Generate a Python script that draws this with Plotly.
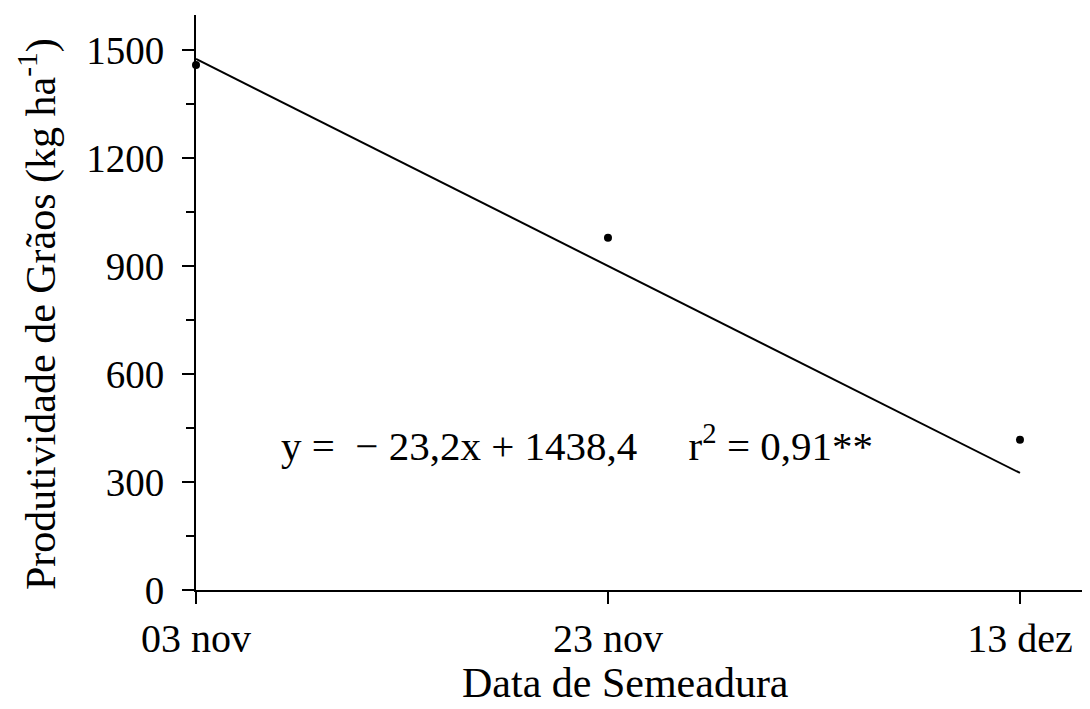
import plotly.graph_objects as go

# Data
days = [0, 20, 40]
date_labels = ["03 nov", "23 nov", "13 dez"]
grain_yield = [1458, 978, 417]
fit_x = [0, 40]
fit_y = [1475, 325]
y_ticks = [0, 300, 600, 900, 1200, 1500]

FONT = "Liberation Serif, Times New Roman, serif"
FS = 41

# plot area in absolute page pixels (page body has an 8px margin)
PL, PR, PT, PB = 196, 1090, 15, 590
OFF = 8
W, H = 1090, 709

fig = go.Figure()
fig.add_trace(go.Scatter(x=fit_x, y=fit_y, mode="lines",
                         line=dict(color="black", width=2), showlegend=False, cliponaxis=False))
fig.add_trace(go.Scatter(x=days, y=grain_yield, mode="markers",
                         marker=dict(color="black", size=8), showlegend=False, cliponaxis=False))

def px_x(p):
    return (p - PL) / (PR - PL)

def px_y(p):
    return (PB - p) / (PB - PT)

# regression equation
fig.add_annotation(x=px_x(577), xref="paper", y=px_y(443), yref="paper", xanchor="center", yanchor="middle",
                   text="y =  \u2212 23,2x + 1438,4     r<sup>2</sup> = 0,91**",
                   showarrow=False, font=dict(family=FONT, size=FS, color="black"))

# axis titles
fig.add_annotation(x=px_x(625), xref="paper", y=px_y(683), yref="paper",
                   xanchor="center", yanchor="middle", text="Data de Semeadura", showarrow=False,
                   font=dict(family=FONT, size=42, color="black"))
fig.add_annotation(x=px_x(38), xref="paper", y=px_y(314), yref="paper",
                   xanchor="center", yanchor="middle", text="Produtividade de Grãos (kg ha<sup>-1</sup>)",
                   textangle=-90, showarrow=False,
                   font=dict(family=FONT, size=42, color="black"))

fig.update_layout(
    width=W, height=H,
    margin=dict(l=PL - OFF, r=W - (PR - OFF), t=PT - OFF, b=H - (PB - OFF), autoexpand=False),
    paper_bgcolor="white", plot_bgcolor="white",
    font=dict(family=FONT, size=40, color="black"),
    xaxis=dict(range=[0, 43.4], tickvals=days, ticktext=date_labels, automargin=False,
               showline=True, linecolor="black", linewidth=2,
               ticks="outside", ticklen=12, tickwidth=2, tickcolor="black",
               showgrid=False, zeroline=False,
               tickfont=dict(family=FONT, size=40)),
    yaxis=dict(range=[0, 1597], tickvals=y_ticks, automargin=False,
               showline=True, linecolor="black", linewidth=2,
               ticks="outside", ticklen=12, tickwidth=2, tickcolor="black",
               ticklabelstandoff=10,
               minor=dict(dtick=150, ticks="outside", ticklen=8, tickwidth=2, tickcolor="black", showgrid=False),
               showgrid=False, zeroline=False,
               tickfont=dict(family=FONT, size=39)),
)

fig.write_html("out.html")
